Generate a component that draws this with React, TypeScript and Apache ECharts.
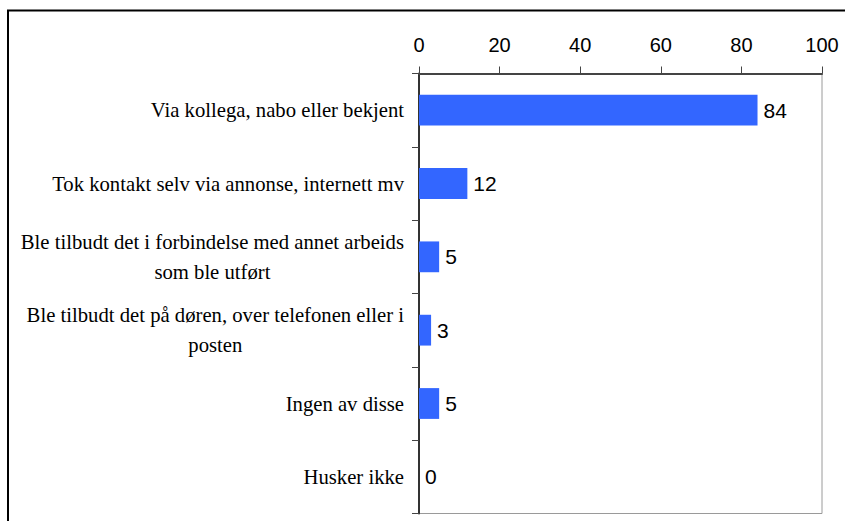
import React, { useEffect, useRef } from "react";
import * as echarts from "echarts";

const categories: string[] = [
  "Via kollega, nabo eller bekjent",
  "Tok kontakt selv via annonse, internett mv",
  "Ble tilbudt det i forbindelse med annet arbeids\nsom ble utført",
  "Ble tilbudt det på døren, over telefonen eller i\nposten",
  "Ingen av disse",
  "Husker ikke",
];
const values: number[] = [84, 12, 5, 3, 5, 0];
const xTicks = { min: 0, max: 100, interval: 20 };

export default function App() {
  const ref = useRef<HTMLDivElement>(null);
  useEffect(() => {
    if (!ref.current) return;
    const chart = echarts.init(ref.current, null, { renderer: "svg" });
    chart.setOption({
      animation: false,
      backgroundColor: "#fff",
      grid: {
        left: 419,
        right: 23,
        top: 73.5,
        bottom: 7.5,
        show: true,
        borderColor: "#9a9a9a",
        borderWidth: 1,
        containLabel: false,
      },
      graphic: [
        {
          type: "rect",
          shape: { x: 8, y: 10.5, width: 2000, height: 2000 },
          style: { fill: "none", stroke: "#000", lineWidth: 2 },
          silent: true,
        },
      ],
      xAxis: {
        type: "value",
        position: "top",
        min: xTicks.min,
        max: xTicks.max,
        interval: xTicks.interval,
        splitLine: { show: false },
        axisLine: { show: true, lineStyle: { color: "#444", width: 2 } },
        axisTick: { show: true, length: 7, lineStyle: { color: "#444", width: 1 } },
        axisLabel: {
          margin: 19,
          fontSize: 20,
          fontFamily: "Liberation Sans, Arial, sans-serif",
          color: "#000",
        },
      },
      yAxis: {
        type: "category",
        inverse: true,
        data: categories,
        axisLine: { show: true, lineStyle: { color: "#333", width: 2 } },
        axisTick: { show: true, length: 7, lineStyle: { color: "#444", width: 1 } },
        axisLabel: {
          margin: 15,
          align: "right",
          formatter: (v: string) =>
            v
              .split("\n")
              .map((l) => "{c|" + l + "}")
              .join("\n"),
          rich: {
            c: {
              align: "center",
              fontSize: 20.7,
              lineHeight: 30,
              fontFamily: "Liberation Serif, Times New Roman, serif",
              color: "#000",
            },
          },
        },
      },
      series: [
        {
          type: "bar",
          data: values,
          barWidth: "42%",
          itemStyle: { color: "#3366FF" },
          label: {
            show: true,
            position: "right",
            distance: 6,
            fontSize: 21,
            fontFamily: "Liberation Sans, Arial, sans-serif",
            color: "#000",
          },
        },
      ],
    });
    return () => chart.dispose();
  }, []);
  return (
    <div
      ref={ref}
      style={{ position: "absolute", left: 0, top: 0, width: 845, height: 521 }}
    />
  );
}
